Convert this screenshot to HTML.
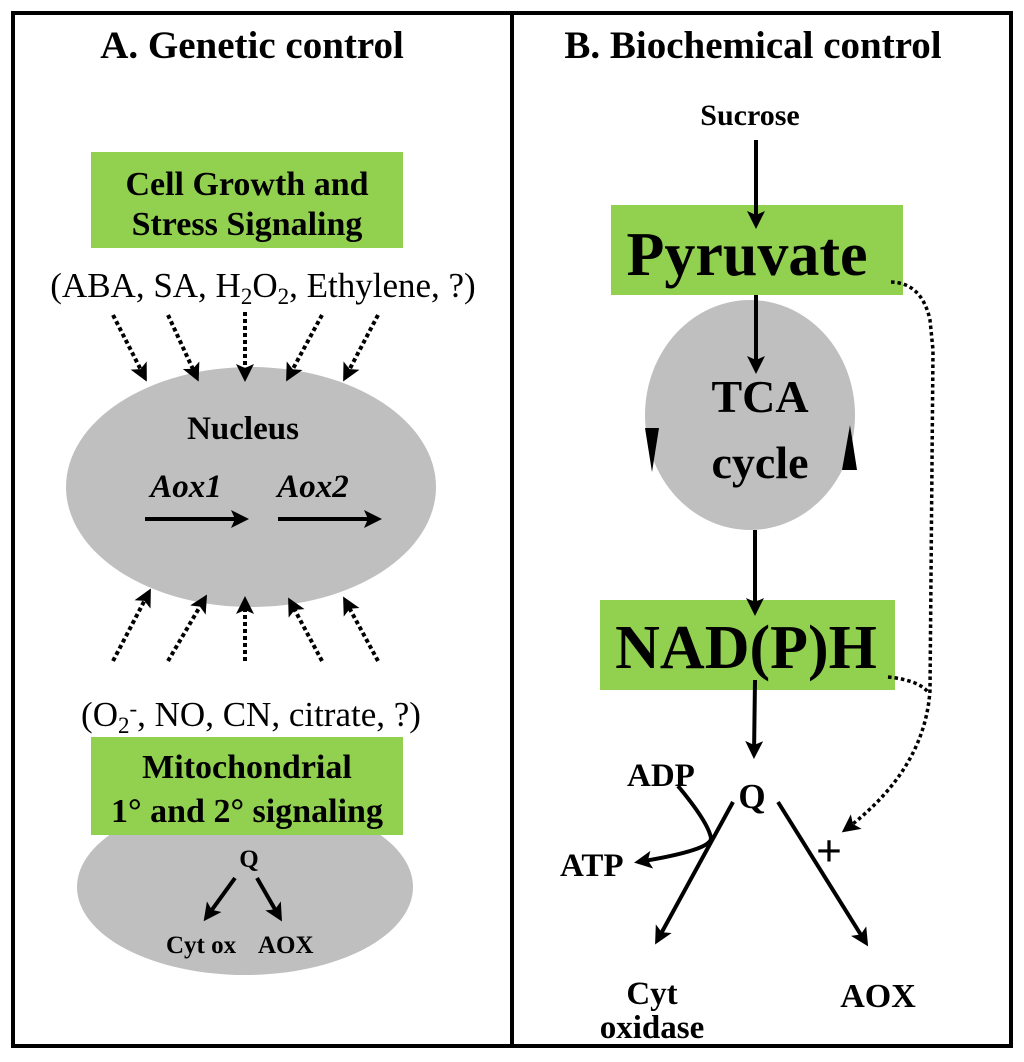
<!DOCTYPE html>
<html><head><meta charset="utf-8"><style>
html,body{margin:0;padding:0;background:#fff}
svg{display:block}
text{font-family:"Liberation Serif",serif;fill:#000}
.b{font-weight:bold}
</style></head><body>
<svg width="1024" height="1062" viewBox="0 0 1024 1062" xmlns="http://www.w3.org/2000/svg">
<defs>
<marker id="ah2" markerWidth="18" markerHeight="18" refX="14" refY="9" orient="auto" markerUnits="userSpaceOnUse" viewBox="0 0 18 18"><path d="M0,0 L18,9 L0,18 L4,9 z" fill="#000"/></marker>
</defs>
<rect x="13" y="13" width="998" height="1033" fill="none" stroke="#000" stroke-width="4"/>
<line x1="512" y1="13" x2="512" y2="1046" stroke="#000" stroke-width="4"/>

<!-- Panel A -->
<text x="252" y="58" class="b" font-size="39" text-anchor="middle">A.  Genetic control</text>
<ellipse cx="251" cy="487" rx="185" ry="120" fill="#bfbfbf"/>
<ellipse cx="245" cy="887" rx="168" ry="88" fill="#bfbfbf"/>
<rect x="91" y="152" width="312" height="96" fill="#92d050"/>
<text x="247" y="195" class="b" font-size="34" text-anchor="middle">Cell Growth and</text>
<text x="247" y="235" class="b" font-size="34" text-anchor="middle">Stress Signaling</text>
<text x="263" y="297" font-size="35" text-anchor="middle">(ABA, SA, H<tspan font-size="23" dy="7">2</tspan><tspan dy="-7">O</tspan><tspan font-size="23" dy="7">2</tspan><tspan dy="-7">, Ethylene, ?)</tspan></text>
<g stroke="#000" stroke-width="4" stroke-dasharray="4,3" fill="none" marker-end="url(#ah2)">
<line x1="113" y1="315" x2="145" y2="378"/>
<line x1="168" y1="315" x2="197" y2="378"/>
<line x1="245" y1="312" x2="245" y2="378"/>
<line x1="322" y1="315" x2="288" y2="378"/>
<line x1="378" y1="315" x2="345" y2="378"/>
<line x1="113" y1="661" x2="149" y2="592"/>
<line x1="168" y1="661" x2="205" y2="598"/>
<line x1="245" y1="661" x2="245" y2="600"/>
<line x1="322" y1="661" x2="290" y2="601"/>
<line x1="378" y1="661" x2="345" y2="600"/>
</g>
<text x="243" y="439" class="b" font-size="33" text-anchor="middle">Nucleus</text>
<text x="186" y="497" class="b" font-size="33" font-style="italic" text-anchor="middle">Aox1</text>
<text x="313" y="497" class="b" font-size="33" font-style="italic" text-anchor="middle">Aox2</text>
<g stroke="#000" stroke-width="4" fill="none" marker-end="url(#ah2)">
<line x1="145" y1="519" x2="245" y2="519"/>
<line x1="278" y1="519" x2="378" y2="519"/>
</g>
<text x="251" y="726" font-size="35" text-anchor="middle">(O<tspan font-size="23" dy="7">2</tspan><tspan font-size="23" dy="-17">-</tspan><tspan dy="10">, NO, CN, citrate, ?)</tspan></text>
<rect x="91" y="737" width="312" height="98" fill="#92d050"/>
<text x="247" y="778" class="b" font-size="34" text-anchor="middle">Mitochondrial</text>
<text x="247" y="822" class="b" font-size="34" text-anchor="middle">1° and 2° signaling</text>
<text x="249" y="867" class="b" font-size="25" text-anchor="middle">Q</text>
<g stroke="#000" stroke-width="4" fill="none" marker-end="url(#ah2)">
<line x1="235" y1="878" x2="206" y2="918"/>
<line x1="257" y1="878" x2="280" y2="918"/>
</g>
<text x="166" y="953" class="b" font-size="25">Cyt ox</text>
<text x="258" y="953" class="b" font-size="25">AOX</text>

<!-- Panel B -->
<text x="753" y="58" class="b" font-size="39" text-anchor="middle">B.  Biochemical control</text>
<text x="750" y="125" class="b" font-size="30" text-anchor="middle">Sucrose</text>
<ellipse cx="750" cy="415" rx="105" ry="115" fill="#bfbfbf"/>
<rect x="611" y="205" width="292" height="90" fill="#92d050"/>
<text x="747" y="275" class="b" font-size="62" text-anchor="middle">Pyruvate</text>
<rect x="600" y="600" width="295" height="90" fill="#92d050"/>
<text x="746" y="668" class="b" font-size="62" text-anchor="middle">NAD(P)H</text>
<text x="760" y="412" class="b" font-size="46" text-anchor="middle">TCA</text>
<text x="760" y="478" class="b" font-size="46" text-anchor="middle">cycle</text>
<path d="M645,428 L659,428 L652,472 Z" fill="#000"/>
<path d="M842,470 L857,470 L850,425 Z" fill="#000"/>
<g stroke="#000" stroke-width="4" fill="none" marker-end="url(#ah2)">
<line x1="756" y1="140" x2="756" y2="225"/>
<line x1="756" y1="295" x2="756" y2="370"/>
<line x1="755" y1="530" x2="755" y2="612"/>
<line x1="755" y1="680" x2="754" y2="755"/>
<line x1="733" y1="802" x2="657" y2="941"/>
<line x1="778" y1="802" x2="866" y2="943"/>
<path d="M678,786 Q708,822 711,838 Q712,850 638,862"/>
</g>
<text x="752" y="808" class="b" font-size="35" text-anchor="middle">Q</text>
<text x="627" y="786" class="b" font-size="33">ADP</text>
<text x="560" y="876" class="b" font-size="33">ATP</text>
<text x="829" y="866" class="b" font-size="46" text-anchor="middle">+</text>
<text x="652" y="1004" class="b" font-size="33" text-anchor="middle">Cyt</text>
<text x="652" y="1038" class="b" font-size="33" text-anchor="middle">oxidase</text>
<text x="878" y="1007" class="b" font-size="34" text-anchor="middle">AOX</text>
<g stroke="#000" stroke-width="3.5" stroke-dasharray="3.5,3" fill="none">
<path d="M891,282 Q922,283 930,320 L933,350 L930,690 Q925,770 845,830" marker-end="url(#ah2)"/>
<path d="M888,677 Q918,680 928,692"/>
</g>
</svg>
</body></html>
